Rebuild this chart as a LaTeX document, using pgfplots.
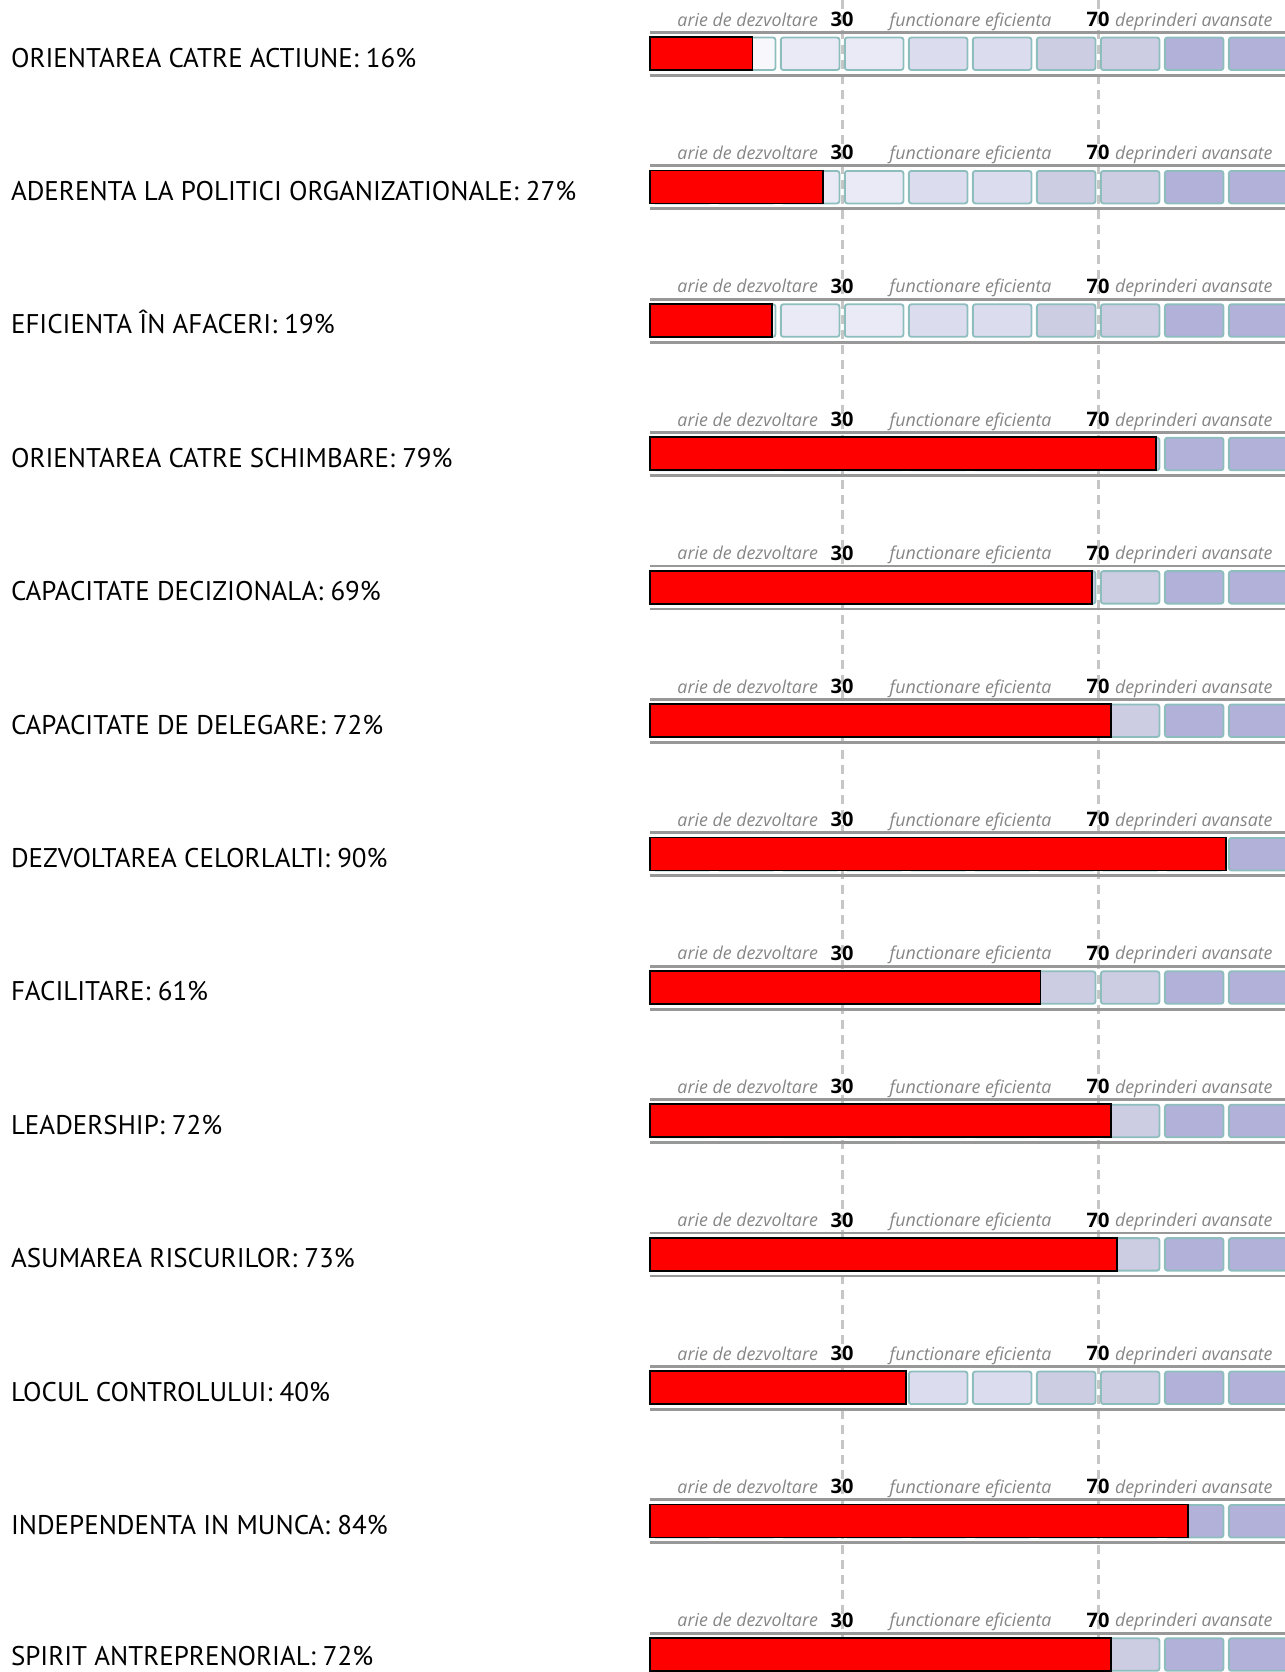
\documentclass[border=0pt]{standalone}
\usepackage{fontspec}
\setmainfont{Open Sans}
\newfontfamily\labfont{PT Sans}
\usepackage{pgfplots}
\pgfplotsset{compat=1.18}
\usepackage{pgfplotstable}

% band colours, from light to dark
\definecolor{b0}{HTML}{F8F8FC}
\definecolor{b1}{HTML}{EAEAF6}
\definecolor{b2}{HTML}{DCDCEF}
\definecolor{b3}{HTML}{CCCCE3}
\definecolor{b4}{HTML}{B1B1D9}
\definecolor{boxline}{HTML}{8DBDBD}
\definecolor{rail}{HTML}{989898}
\definecolor{guide}{HTML}{C6C6C6}
\definecolor{note}{HTML}{858585}

\tikzset{
  lab/.style    = {anchor=base west, inner sep=0pt, font=\labfont\fontsize{13.5}{16}\selectfont},
  bandtxt/.style = {note, inner sep=0pt, font=\itshape\fontsize{8.9}{10}\selectfont},
  limtxt/.style  = {inner sep=0pt, font=\bfseries\fontsize{10}{11}\selectfont},
}

% row 0 is the top one
\pgfplotstableread{
row value
0  16
1  27
2  19
3  79
4  69
5  72
6  90
7  61
8  72
9  73
10 40
11 84
12 72
}\scores

% one box of the scale: left end, row, fill
\newcommand\bx[3]{%
  \draw[boxline, line width=0.9pt, rounded corners=1.2pt, fill=#3]
    (axis cs:{#1+0.45},{37.5+133.4*#2}) rectangle (axis cs:{#1+9.6},{70+133.4*#2});}

% the scale behind each bar, with its captions
\newcommand\track[1]{%
  \draw[rail, line width=1.4pt] (axis cs:0,{32.3+133.4*#1}) -- (axis cs:100,{32.3+133.4*#1});
  \draw[rail, line width=1.4pt] (axis cs:0,{75.3+133.4*#1}) -- (axis cs:100,{75.3+133.4*#1});
  \bx{0}{#1}{b0}\bx{10}{#1}{b0}\bx{20}{#1}{b1}\bx{30}{#1}{b1}\bx{40}{#1}{b2}%
  \bx{50}{#1}{b2}\bx{60}{#1}{b3}\bx{70}{#1}{b3}\bx{80}{#1}{b4}\bx{90}{#1}{b4}%
  \node[bandtxt, anchor=base east] at (axis cs:26.3,{26+133.4*#1}) {arie de dezvoltare};
  \node[limtxt, anchor=base]       at (axis cs:30,{26.5+133.4*#1}) {30};
  \node[bandtxt, anchor=base]      at (axis cs:50.1,{26+133.4*#1}) {functionare eficienta};
  \node[limtxt, anchor=base]       at (axis cs:70,{26.5+133.4*#1}) {70};
  \node[bandtxt, anchor=base west] at (axis cs:72.6,{26+133.4*#1}) {deprinderi avansate};
}

\begin{document}
\begin{tikzpicture}
  \begin{axis}[
      scale only axis,
      width      = 642.5pt,
      height     = 836pt,
      xmin       = -101.5625,
      xmax       = 99.21875,
      ymin       = 0,
      ymax       = 1672,
      y dir      = reverse,
      hide axis,
      clip mode  = global,
    ]

    \draw[guide, line width=1.5pt, dash pattern=on 4.5pt off 3pt] (axis cs:30,0) -- (axis cs:30,1672);
    \draw[guide, line width=1.5pt, dash pattern=on 4.5pt off 3pt] (axis cs:70,0) -- (axis cs:70,1672);

    \pgfplotsinvokeforeach{0,...,12}{\track{#1}}

    \addplot [
      xbar,
      bar width  = 33,
      bar shift  = 0pt,
      fill       = red,
      draw       = black,
      line width = 0.9pt,
    ] table [x=value, y expr={53.5+133.4*\thisrow{row}}] {\scores};

    \node[lab] at (axis cs:-99.9,67.0)   {ORIENTAREA CATRE ACTIUNE: 16\%};
    \node[lab] at (axis cs:-99.9,200.4)  {ADERENTA LA POLITICI ORGANIZATIONALE: 27\%};
    \node[lab] at (axis cs:-99.9,333.8)  {EFICIENTA ÎN AFACERI: 19\%};
    \node[lab] at (axis cs:-99.9,467.2)  {ORIENTAREA CATRE SCHIMBARE: 79\%};
    \node[lab] at (axis cs:-99.9,600.6)  {CAPACITATE DECIZIONALA: 69\%};
    \node[lab] at (axis cs:-99.9,734.0)  {CAPACITATE DE DELEGARE: 72\%};
    \node[lab] at (axis cs:-99.9,867.4)  {DEZVOLTAREA CELORLALTI: 90\%};
    \node[lab] at (axis cs:-99.9,1000.8) {FACILITARE: 61\%};
    \node[lab] at (axis cs:-99.9,1134.2) {LEADERSHIP: 72\%};
    \node[lab] at (axis cs:-99.9,1267.6) {ASUMAREA RISCURILOR: 73\%};
    \node[lab] at (axis cs:-99.9,1401.0) {LOCUL CONTROLULUI: 40\%};
    \node[lab] at (axis cs:-99.9,1534.4) {INDEPENDENTA IN MUNCA: 84\%};
    \node[lab] at (axis cs:-99.9,1665.5) {SPIRIT ANTREPRENORIAL: 72\%};
  \end{axis}
  \pgfresetboundingbox
  \path[use as bounding box] (current axis.south west) rectangle (current axis.north east);
\end{tikzpicture}
\end{document}
